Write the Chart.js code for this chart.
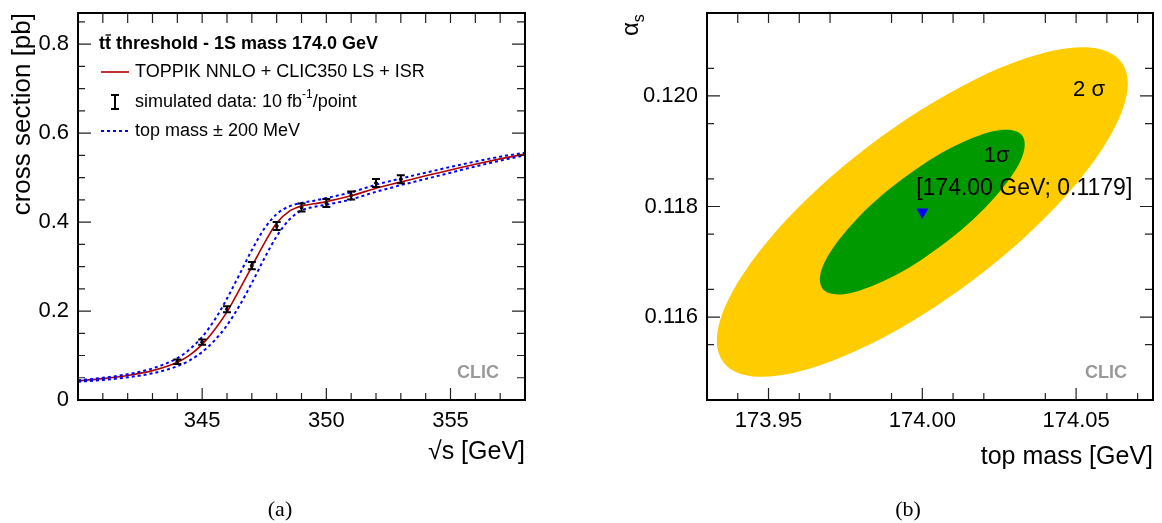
<!DOCTYPE html>
<html>
<head>
<meta charset="utf-8">
<script src="https://cdn.jsdelivr.net/npm/chart.js@4.4.1/dist/chart.umd.min.js"></script>
<style>
html, body { margin: 0; padding: 0; background: #fff; }
body { width: 1162px; height: 523px; position: relative; overflow: hidden; }
#chartA { position: absolute; left: 0; top: 0; }
#chartB { position: absolute; left: 600px; top: 0; }
</style>
</head>
<body>
<canvas id="chartA" width="600" height="523"></canvas>
<canvas id="chartB" width="562" height="523"></canvas>
<script>
// (a) threshold scan
var energyGrid   = [340, 341, 342, 343, 344, 344.5, 345, 345.5, 346, 346.5, 347, 347.5, 348, 348.5, 349, 349.5, 350, 351, 352, 353, 354, 355, 356, 357, 358]
var xsecNominal  = [0.043, 0.048, 0.055, 0.066, 0.085, 0.101, 0.125, 0.158, 0.198, 0.248, 0.300, 0.352, 0.398, 0.424, 0.436, 0.441, 0.446, 0.459, 0.476, 0.490, 0.504, 0.517, 0.530, 0.542, 0.553]
var xsecMassLow  = [0.044, 0.050, 0.058, 0.071, 0.094, 0.114, 0.142, 0.180, 0.228, 0.282, 0.337, 0.385, 0.418, 0.435, 0.443, 0.448, 0.454, 0.467, 0.484, 0.498, 0.511, 0.524, 0.536, 0.547, 0.556]
var xsecMassHigh = [0.041, 0.045, 0.051, 0.060, 0.076, 0.089, 0.108, 0.134, 0.168, 0.212, 0.263, 0.318, 0.368, 0.405, 0.426, 0.434, 0.439, 0.451, 0.468, 0.483, 0.497, 0.511, 0.525, 0.538, 0.550]
var scanEnergy = [344, 345, 346, 347, 348, 349, 350, 351, 352, 353]
var scanXsec   = [0.086, 0.130, 0.204, 0.302, 0.391, 0.433, 0.443, 0.460, 0.488, 0.496]
var scanErr    = [0.005, 0.006, 0.007, 0.008, 0.009, 0.009, 0.009, 0.009, 0.009, 0.009]
var xTicksA = [345, 350, 355]
var yTicksA = [0, 0.2, 0.4, 0.6, 0.8]

// (b) top mass vs alpha_s contours
var contour2Mass  = [174.0668, 174.0645, 174.0578, 174.0472, 174.0334, 174.0173, 174.0000, 173.9827, 173.9666, 173.9528, 173.9422, 173.9355, 173.9332, 173.9355, 173.9422, 173.9528, 173.9666, 173.9827, 174.0000, 174.0173, 174.0334, 174.0472, 174.0578, 174.0645]
var contour2Alpha = [0.120226, 0.120629, 0.120846, 0.120862, 0.120676, 0.120302, 0.119763, 0.119098, 0.118351, 0.117573, 0.116817, 0.116136, 0.115574, 0.115171, 0.114954, 0.114938, 0.115124, 0.115498, 0.116037, 0.116702, 0.117449, 0.118227, 0.118983, 0.119664]
var contour1Mass  = [174.0333, 174.0322, 174.0288, 174.0235, 174.0167, 174.0086, 174.0000, 173.9914, 173.9833, 173.9765, 173.9712, 173.9678, 173.9667, 173.9678, 173.9712, 173.9765, 173.9833, 173.9914, 174.0000, 174.0086, 174.0167, 174.0235, 174.0288, 174.0322]
var contour1Alpha = [0.119122, 0.119301, 0.119384, 0.119367, 0.119249, 0.119040, 0.118752, 0.118407, 0.118027, 0.117639, 0.117268, 0.116940, 0.116678, 0.116499, 0.116416, 0.116433, 0.116551, 0.116760, 0.117048, 0.117393, 0.117773, 0.118161, 0.118532, 0.118860]
var bestMass = 174.00
var bestAlpha = 0.1179
var xTicksB = [173.95, 174.00, 174.05]
var yTicksB = [0.116, 0.118, 0.120]

var FONT = "'Liberation Sans', Arial, Helvetica, sans-serif"
Chart.defaults.font.family = FONT
Chart.defaults.color = '#000'

function pts(xs, ys) {
    return xs.map(function(x, i){ return {x: x, y: ys[i]} })
}

// keep the plot frame where it is, labels may stick out
function noPad(s) {
    s.paddingTop = 0
    s.paddingBottom = 0
    s.paddingLeft = 0
    s.paddingRight = 0
}

// ROOT style frame with inward ticks on all four sides
function drawFrame(chart, xMaj, xMin, yMaj, yMin) {
    var ctx = chart.ctx, a = chart.chartArea
    var sx = chart.scales.x, sy = chart.scales.y
    ctx.save()
    ctx.strokeStyle = '#222'
    ctx.lineWidth = 1.2
    ctx.beginPath()
    xMaj.forEach(function(v){
        var p = sx.getPixelForValue(v)
        ctx.moveTo(p, a.bottom); ctx.lineTo(p, a.bottom - 12)
        ctx.moveTo(p, a.top); ctx.lineTo(p, a.top + 10)
    })
    xMin.forEach(function(v){
        var p = sx.getPixelForValue(v)
        ctx.moveTo(p, a.bottom); ctx.lineTo(p, a.bottom - 7)
        ctx.moveTo(p, a.top); ctx.lineTo(p, a.top + 10)
    })
    yMaj.forEach(function(v){
        var p = sy.getPixelForValue(v)
        ctx.moveTo(a.left, p); ctx.lineTo(a.left + 13, p)
        ctx.moveTo(a.right, p); ctx.lineTo(a.right - 13, p)
    })
    yMin.forEach(function(v){
        var p = sy.getPixelForValue(v)
        ctx.moveTo(a.left, p); ctx.lineTo(a.left + 7, p)
        ctx.moveTo(a.right, p); ctx.lineTo(a.right - 8, p)
    })
    ctx.stroke()
    ctx.strokeStyle = '#000'
    ctx.lineWidth = 2
    ctx.strokeRect(a.left, a.top, a.right - a.left, a.bottom - a.top)
    ctx.restore()
}

function caption(chart, text, x) {
    var ctx = chart.ctx
    ctx.save()
    ctx.font = "22px 'Liberation Serif', 'Times New Roman', serif"
    ctx.fillStyle = '#000'
    ctx.textAlign = 'center'
    ctx.textBaseline = 'middle'
    ctx.fillText(text, x, 510)
    ctx.restore()
}

function clicLabel(chart) {
    var ctx = chart.ctx, a = chart.chartArea
    ctx.save()
    ctx.font = 'bold 18px ' + FONT
    ctx.fillStyle = '#999'
    ctx.textAlign = 'right'
    ctx.textBaseline = 'middle'
    ctx.fillText('CLIC', a.right - 26, a.bottom - 27)
    ctx.restore()
}

var minorA_x = [], minorA_y = [], minorB_x = [], minorB_y = []
for (var e = 341; e <= 357; e++) if (e % 5 != 0) minorA_x.push(e)
for (var k = 1; k <= 17; k++) if (k % 4 != 0) minorA_y.push(k * 0.05)
for (var m = 1; m <= 14; m++) if (m % 5 != 0) minorB_x.push(173.93 + m * 0.01)
for (var q = 0; q <= 14; q++) if (q % 4 != 1) minorB_y.push(0.1145 + q * 0.0005)

var scanPlugin = {
    id: 'scanPlugin',
    afterDatasetsDraw: function(chart) {
        var ctx = chart.ctx, sx = chart.scales.x, sy = chart.scales.y
        ctx.save()
        ctx.strokeStyle = '#000'
        ctx.lineWidth = 2
        ctx.beginPath()
        for (var i = 0; i < scanEnergy.length; i++) {
            var px = sx.getPixelForValue(scanEnergy[i])
            var y1 = sy.getPixelForValue(scanXsec[i] - scanErr[i])
            var y2 = sy.getPixelForValue(scanXsec[i] + scanErr[i])
            ctx.moveTo(px, y1); ctx.lineTo(px, y2)
            ctx.moveTo(px - 4, y1); ctx.lineTo(px + 4, y1)
            ctx.moveTo(px - 4, y2); ctx.lineTo(px + 4, y2)
        }
        ctx.stroke()
        ctx.restore()
        drawFrame(chart, xTicksA, minorA_x, yTicksA, minorA_y)
    },
    afterDraw: function(chart) {
        var ctx = chart.ctx
        ctx.save()
        ctx.fillStyle = '#000'
        ctx.textBaseline = 'middle'
        ctx.textAlign = 'left'
        // header
        ctx.font = 'bold 18px ' + FONT
        var hx = 99, hy = 44
        ctx.fillText('tt threshold - 1S mass 174.0 GeV', hx, hy)
        var tw = ctx.measureText('t').width
        ctx.lineWidth = 1.3
        ctx.strokeStyle = '#000'
        ctx.beginPath()
        ctx.moveTo(hx + tw + 0.5, hy - 9); ctx.lineTo(hx + 2 * tw, hy - 9)
        ctx.stroke()
        // entries
        ctx.font = '18px ' + FONT
        ctx.strokeStyle = '#b00000'
        ctx.lineWidth = 1.6
        ctx.beginPath(); ctx.moveTo(101, 72); ctx.lineTo(129, 72); ctx.stroke()
        ctx.fillText('TOPPIK NNLO + CLIC350 LS + ISR', 135, 72)

        ctx.strokeStyle = '#000'
        ctx.lineWidth = 2
        ctx.beginPath()
        ctx.moveTo(115, 95); ctx.lineTo(115, 109)
        ctx.moveTo(111, 95); ctx.lineTo(119, 95)
        ctx.moveTo(111, 109); ctx.lineTo(119, 109)
        ctx.stroke()
        var s1 = 'simulated data: 10 fb'
        ctx.fillText(s1, 135, 102)
        var w1 = ctx.measureText(s1).width
        ctx.font = '12px ' + FONT
        ctx.fillText('-1', 135 + w1, 95)
        var w2 = ctx.measureText('-1').width
        ctx.font = '18px ' + FONT
        ctx.fillText('/point', 135 + w1 + w2, 102)

        ctx.strokeStyle = '#0000ff'
        ctx.lineWidth = 2
        ctx.setLineDash([3, 3])
        ctx.beginPath(); ctx.moveTo(101, 131); ctx.lineTo(129, 131); ctx.stroke()
        ctx.setLineDash([])
        ctx.fillText('top mass \u00b1 200 MeV', 135, 131)
        ctx.restore()
        clicLabel(chart)
        caption(chart, '(a)', 280)
    }
}

function closedCurve(ctx, p) {
    var n = p.length
    ctx.beginPath()
    ctx.moveTo(p[0].x, p[0].y)
    for (var i = 0; i < n; i++) {
        var p0 = p[(i - 1 + n) % n], p1 = p[i], p2 = p[(i + 1) % n], p3 = p[(i + 2) % n]
        ctx.bezierCurveTo(p1.x + (p2.x - p0.x) / 6, p1.y + (p2.y - p0.y) / 6,
                          p2.x - (p3.x - p1.x) / 6, p2.y - (p3.y - p1.y) / 6, p2.x, p2.y)
    }
    ctx.closePath()
}

var contourPlugin = {
    id: 'contourPlugin',
    beforeDatasetsDraw: function(chart) {
        var ctx = chart.ctx, a = chart.chartArea
        ctx.save()
        ctx.beginPath(); ctx.rect(a.left, a.top, a.right - a.left, a.bottom - a.top); ctx.clip()
        ;[0, 1].forEach(function(di){
            var ds = chart.data.datasets[di]
            var meta = chart.getDatasetMeta(di)
            closedCurve(ctx, meta.data.map(function(el){ return {x: el.x, y: el.y} }))
            ctx.fillStyle = ds.backgroundColor
            ctx.fill()
        })
        ctx.restore()
    },
    afterDatasetsDraw: function(chart) {
        drawFrame(chart, xTicksB, minorB_x, yTicksB, minorB_y)
    },
    afterDraw: function(chart) {
        var ctx = chart.ctx, sx = chart.scales.x, sy = chart.scales.y
        ctx.save()
        ctx.fillStyle = '#000'
        ctx.textBaseline = 'middle'
        ctx.textAlign = 'left'
        ctx.font = '22px ' + FONT
        ctx.fillText('2 \u03c3', sx.getPixelForValue(174.049), sy.getPixelForValue(0.1201))
        ctx.fillText('1\u03c3', sx.getPixelForValue(174.020), sy.getPixelForValue(0.11892))
        ctx.font = '23px ' + FONT
        ctx.fillText('[174.00 GeV; 0.1179]', sx.getPixelForValue(173.998), sy.getPixelForValue(0.11832))
        // alpha_s axis title
        ctx.translate(38, 36)
        ctx.rotate(-Math.PI / 2)
        ctx.textBaseline = 'alphabetic'
        ctx.font = '24px ' + FONT
        ctx.fillText('\u03b1', 0, 0)
        var aw = ctx.measureText('\u03b1').width
        ctx.font = '16px ' + FONT
        ctx.fillText('s', aw, 6)
        ctx.restore()
        clicLabel(chart)
        caption(chart, '(b)', 308)
    }
}

new Chart('chartA', {
    type: 'scatter',
    data: {
        datasets: [
            {data: pts(energyGrid, xsecMassLow), showLine: true, borderColor: '#0000ff', borderWidth: 2, borderDash: [3, 3], pointRadius: 0, cubicInterpolationMode: 'monotone'},
            {data: pts(energyGrid, xsecMassHigh), showLine: true, borderColor: '#0000ff', borderWidth: 2, borderDash: [3, 3], pointRadius: 0, cubicInterpolationMode: 'monotone'},
            {data: pts(energyGrid, xsecNominal), showLine: true, borderColor: '#b00000', borderWidth: 1.6, pointRadius: 0, cubicInterpolationMode: 'monotone'},
            {data: pts(scanEnergy, scanXsec), pointRadius: 1.5, backgroundColor: '#000', borderColor: '#000'}
        ]
    },
    options: {
        responsive: false,
        animation: false,
        layout: {padding: {left: 0, top: 13, right: 75, bottom: 0}},
        plugins: {legend: {display: false}, tooltip: {enabled: false}},
        scales: {
            x: {
                type: 'linear', min: 340, max: 358,
                afterBuildTicks: function(s){ s.ticks = xTicksA.map(function(v){ return {value: v} }) },
                afterFit: function(s){ s.height = 123; noPad(s) },
                grid: {display: false, drawTicks: false},
                border: {display: false},
                ticks: {font: {size: 22}, padding: 8, maxRotation: 0, autoSkip: false},
                title: {display: true, text: '\u221As [GeV]', align: 'end', font: {size: 25}, padding: {top: 0, bottom: 56}}
            },
            y: {
                type: 'linear', min: 0, max: 0.87,
                afterBuildTicks: function(s){ s.ticks = yTicksA.map(function(v){ return {value: v} }) },
                afterFit: function(s){ s.width = 78; noPad(s) },
                grid: {display: false, drawTicks: false},
                border: {display: false},
                ticks: {font: {size: 22}, padding: 9, callback: function(v){ return v === 0 ? '0' : v.toFixed(1) }},
                title: {display: true, text: 'cross section [pb]', align: 'end', font: {size: 26}, padding: {top: 7, bottom: 0}}
            }
        }
    },
    plugins: [scanPlugin]
})

new Chart('chartB', {
    type: 'scatter',
    data: {
        datasets: [
            {data: pts(contour2Mass, contour2Alpha), backgroundColor: '#ffcc00', pointRadius: 0},
            {data: pts(contour1Mass, contour1Alpha), backgroundColor: '#009900', pointRadius: 0},
            {data: [{x: bestMass, y: bestAlpha}], pointStyle: 'triangle', rotation: 180, pointRadius: 7, backgroundColor: '#0000ff', borderColor: '#0000ff', borderWidth: 0}
        ]
    },
    options: {
        responsive: false,
        animation: false,
        layout: {padding: {left: 0, top: 13, right: 9, bottom: 0}},
        plugins: {legend: {display: false}, tooltip: {enabled: false}},
        scales: {
            x: {
                type: 'linear', min: 173.93, max: 174.075,
                afterBuildTicks: function(s){ s.ticks = xTicksB.map(function(v){ return {value: v} }) },
                afterFit: function(s){ s.height = 123; noPad(s) },
                grid: {display: false, drawTicks: false},
                border: {display: false},
                ticks: {font: {size: 22}, padding: 8, maxRotation: 0, autoSkip: false, callback: function(v){ return v.toFixed(2) }},
                title: {display: true, text: 'top mass [GeV]', align: 'end', font: {size: 25}, padding: {top: 0, bottom: 51}}
            },
            y: {
                type: 'linear', min: 0.1145, max: 0.1215,
                afterBuildTicks: function(s){ s.ticks = yTicksB.map(function(v){ return {value: v} }) },
                afterFit: function(s){ s.width = 107; noPad(s) },
                grid: {display: false, drawTicks: false},
                border: {display: false},
                ticks: {font: {size: 22}, padding: 9, callback: function(v){ return v.toFixed(3) }},
                title: {display: false}
            }
        }
    },
    plugins: [contourPlugin]
})
</script>
</body>
</html>
